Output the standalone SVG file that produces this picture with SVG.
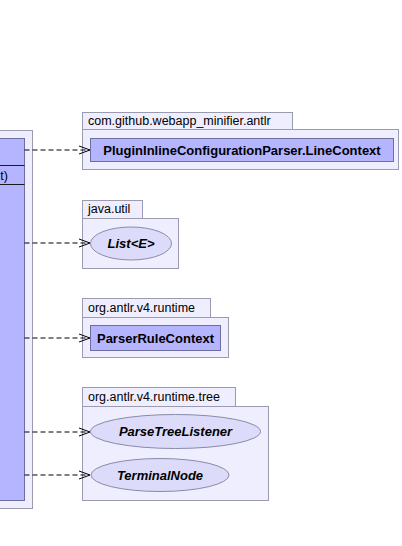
<svg xmlns="http://www.w3.org/2000/svg" width="402" height="546" viewBox="0 0 402 546">
<defs>
<style>
.pkg{fill:#EEEEFF;stroke:#9A9AB0;stroke-width:1}
.cls{fill:#B4B4FF;stroke:#6E6E9E;stroke-width:1}
.ell{fill:#DCDCFA;stroke:#8A8AAA;stroke-width:1}
.sep{stroke:#1A1A1A;stroke-width:1}
.pl{font-family:"Liberation Sans",Arial,sans-serif;font-size:12.5px;fill:#000}
.cn{font-family:"Liberation Sans",Arial,sans-serif;font-size:13px;font-weight:bold;fill:#000}
.in{font-family:"Liberation Sans",Arial,sans-serif;font-size:13px;font-weight:bold;font-style:italic;fill:#000}
.dep{fill:none;stroke:#000;stroke-width:1;stroke-dasharray:5,3}
.ah{fill:none;stroke:#000;stroke-width:1}
</style>
</defs>
<g id="main">
<rect class="pkg" x="-10" y="130.5" width="42.5" height="378"/>
<rect class="cls" x="-10" y="138.5" width="34.5" height="362"/>
<line class="sep" x1="-10" y1="165.5" x2="24.5" y2="165.5"/>
<line class="sep" x1="-10" y1="184.5" x2="24.5" y2="184.5"/>
<text class="pl" x="8" y="180" text-anchor="end">t)</text>
</g>
<g id="pkg-webapp">
<rect class="pkg" x="82.5" y="112.5" width="210" height="17"/>
<rect class="pkg" x="82.5" y="129.5" width="316" height="40"/>
<text class="pl" x="88" y="125">com.github.webapp_minifier.antlr</text>
</g>
<g id="LineContext">
<rect class="cls" x="90.5" y="138.5" width="303" height="23"/>
<text class="cn" x="242" y="155" text-anchor="middle">PluginInlineConfigurationParser.LineContext</text>
</g>
<g id="pkg-java-util">
<rect class="pkg" x="82.5" y="200.5" width="60" height="18"/>
<rect class="pkg" x="82.5" y="218.5" width="96" height="50"/>
<text class="pl" x="88" y="213">java.util</text>
</g>
<g id="List">
<ellipse class="ell" cx="131" cy="243.5" rx="40.5" ry="16.5"/>
<text class="in" x="131" y="248" text-anchor="middle">List&lt;E&gt;</text>
</g>
<g id="pkg-runtime">
<rect class="pkg" x="82.5" y="298.5" width="128" height="19"/>
<rect class="pkg" x="82.5" y="317.5" width="146" height="40"/>
<text class="pl" x="88" y="312">org.antlr.v4.runtime</text>
</g>
<g id="ParserRuleContext">
<rect class="cls" x="90.5" y="325.5" width="130" height="25"/>
<text class="cn" x="155.5" y="343" text-anchor="middle">ParserRuleContext</text>
</g>
<g id="pkg-tree">
<rect class="pkg" x="82.5" y="387.5" width="153" height="19"/>
<rect class="pkg" x="82.5" y="406.5" width="186" height="94"/>
<text class="pl" x="88" y="401">org.antlr.v4.runtime.tree</text>
</g>
<g id="ParseTreeListener">
<ellipse class="ell" cx="175.5" cy="431.5" rx="85" ry="17"/>
<text class="in" x="175.5" y="436" text-anchor="middle">ParseTreeListener</text>
</g>
<g id="TerminalNode">
<ellipse class="ell" cx="160" cy="475" rx="69" ry="16.5"/>
<text class="in" x="160" y="480" text-anchor="middle">TerminalNode</text>
</g>
<g id="connectors">
<line class="dep" x1="24.5" y1="150" x2="89" y2="150"/>
<polyline class="ah" points="79,146 90,150 79,154"/>
<line class="dep" x1="24.5" y1="243" x2="89" y2="243"/>
<polyline class="ah" points="79,239 90,243 79,247"/>
<line class="dep" x1="24.5" y1="338" x2="89" y2="338"/>
<polyline class="ah" points="79,334 90,338 79,342"/>
<line class="dep" x1="24.5" y1="432" x2="89" y2="432"/>
<polyline class="ah" points="79,428 90,432 79,436"/>
<line class="dep" x1="24.5" y1="475" x2="89" y2="475"/>
<polyline class="ah" points="79,471 90,475 79,479"/>
</g>
</svg>
